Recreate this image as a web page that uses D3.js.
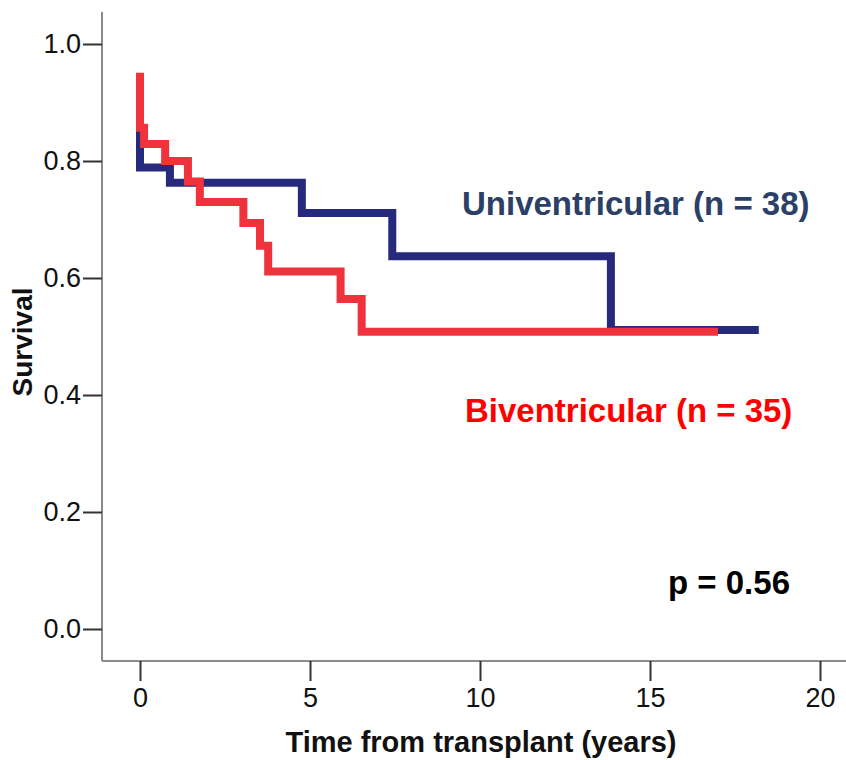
<!DOCTYPE html>
<html>
<head>
<meta charset="utf-8">
<script src="https://cdn.jsdelivr.net/npm/d3@7"></script>
<style>
  html, body { margin: 0; padding: 0; background: #fff; }
  svg { display: block; font-family: "Liberation Sans", Arial, sans-serif; }
</style>
</head>
<body>
<svg id="chart" width="846" height="760"></svg>
<script>
// Kaplan-Meier step points: time (years) and survival after each step
const uniTimes = [0, 0, 0.88, 4.76, 7.42, 13.85, 18.2];
const uniSurv  = [0.92, 0.789, 0.763, 0.711, 0.637, 0.511, 0.511];

const biTimes = [0, 0, 0.12, 0.74, 1.41, 1.76, 3.04, 3.53, 3.77, 5.90, 6.52, 17.0];
const biSurv  = [0.951, 0.857, 0.829, 0.800, 0.765, 0.730, 0.694, 0.655, 0.611, 0.564, 0.508, 0.508];

const xTicks = [0, 5, 10, 15, 20];
const yTicks = [0, 0.2, 0.4, 0.6, 0.8, 1.0];

const seriesLabels = ["Univentricular (n = 38)", "Biventricular (n = 35)"];
const pLabel = "p = 0.56";

const svg = d3.select("#chart");

const x = d3.scaleLinear().domain([0, 20]).range([140, 820]);
const y = d3.scaleLinear().domain([0, 1]).range([629, 44]);

const axisLeftX = 102, axisBottomY = 661;

// axis frame lines
svg.append("line")
  .attr("x1", axisLeftX).attr("x2", axisLeftX)
  .attr("y1", 12).attr("y2", axisBottomY)
  .attr("stroke", "#8a8a8a").attr("stroke-width", 2);
svg.append("line")
  .attr("x1", axisLeftX).attr("x2", 846)
  .attr("y1", axisBottomY).attr("y2", axisBottomY)
  .attr("stroke", "#8a8a8a").attr("stroke-width", 2);

// y axis ticks and labels
const yAxis = d3.axisLeft(y).tickValues(yTicks).tickFormat(d3.format(".1f"))
  .tickSize(19).tickPadding(2);
const gy = svg.append("g").attr("transform", `translate(${axisLeftX},0)`).call(yAxis);
gy.select(".domain").remove();
gy.selectAll(".tick line").attr("stroke", "#333").attr("stroke-width", 2);
gy.selectAll(".tick text").attr("font-size", 27).attr("fill", "#111")
  .attr("font-family", "Liberation Sans, Arial, sans-serif");

// x axis ticks and labels
const xAxis = d3.axisBottom(x).tickValues(xTicks).tickFormat(d3.format("d"))
  .tickSize(20).tickPadding(7);
const gx = svg.append("g").attr("transform", `translate(0,${axisBottomY})`).call(xAxis);
gx.select(".domain").remove();
gx.selectAll(".tick line").attr("stroke", "#333").attr("stroke-width", 2);
gx.selectAll(".tick text").attr("font-size", 27).attr("fill", "#111")
  .attr("font-family", "Liberation Sans, Arial, sans-serif");

// axis titles
svg.append("text")
  .attr("x", 481).attr("y", 752)
  .attr("text-anchor", "middle")
  .attr("font-size", 29).attr("font-weight", "bold").attr("fill", "#111")
  .text("Time from transplant (years)");
svg.append("text")
  .attr("transform", "translate(32,342) rotate(-90)")
  .attr("text-anchor", "middle")
  .attr("font-size", 28).attr("font-weight", "bold").attr("fill", "#111")
  .text("Survival");

// survival curves
const line = d3.line()
  .x(d => x(d[0])).y(d => y(d[1]))
  .curve(d3.curveStepAfter);

const uniData = uniTimes.map((t, i) => [t, uniSurv[i]]);
const biData = biTimes.map((t, i) => [t, biSurv[i]]);

svg.append("path").datum(uniData)
  .attr("d", line)
  .attr("fill", "none").attr("stroke", "#262a7c").attr("stroke-width", 8)
  .attr("stroke-linejoin", "miter").attr("stroke-linecap", "butt");
svg.append("path").datum(biData)
  .attr("d", line)
  .attr("fill", "none").attr("stroke", "#f0323d").attr("stroke-width", 8)
  .attr("stroke-linejoin", "miter").attr("stroke-linecap", "butt");

// series labels
svg.append("text")
  .attr("x", 462).attr("y", 215)
  .attr("font-size", 33).attr("font-weight", "bold").attr("fill", "#2b4066")
  .text(seriesLabels[0]);
svg.append("text")
  .attr("x", 465).attr("y", 422)
  .attr("font-size", 33).attr("font-weight", "bold").attr("fill", "#ff0000")
  .text(seriesLabels[1]);
svg.append("text")
  .attr("x", 668).attr("y", 594)
  .attr("font-size", 33).attr("font-weight", "bold").attr("fill", "#000")
  .text(pLabel);
</script>
</body>
</html>
